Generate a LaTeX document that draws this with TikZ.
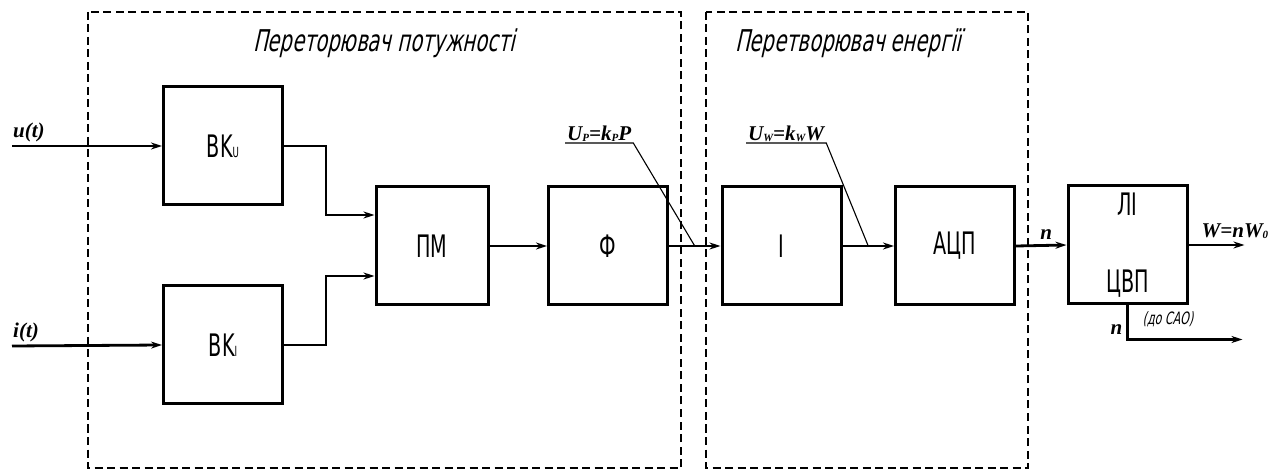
\documentclass[tikz,border=0pt]{standalone}
\usepackage{fontspec}
\newfontfamily\gostfont[FakeStretch=0.65,FakeSlant=0.22]{DejaVu Sans}
\newfontfamily\boxfont[FakeStretch=0.62]{DejaVu Sans}
\newfontfamily\sigfont{Liberation Serif}
\usetikzlibrary{arrows.meta,positioning,calc}
\newcommand{\smallidx}[1]{{\fontsize{14}{14}\selectfont #1}}
\newcommand{\sigidx}[1]{\raisebox{-1pt}{\fontsize{11}{11}\selectfont #1}}

\begin{document}
\begin{tikzpicture}[x=1pt,y=-1pt,
    box/.style={draw,line width=3pt,minimum width=119pt,minimum height=118pt,inner sep=0pt,align=center,font=\boxfont\fontsize{31}{31}\selectfont},
    frame/.style={draw,line width=2.2pt,dash pattern=on 8pt off 4.5pt},
    ->/.style={-{Stealth[length=11pt,width=7pt]},line width=2.8pt},
    sig/.style={font=\sigfont\bfseries\itshape\fontsize{21}{21}\selectfont,inner sep=1pt},
    title/.style={font=\gostfont\fontsize{30}{30}\selectfont,inner sep=0pt},
    note/.style={font=\gostfont\fontsize{17}{17}\selectfont,inner sep=0pt},
    leader/.style={line width=1.1pt},
]
\useasboundingbox (0,0) rectangle (1286,470);

% Frames
\draw[frame] (88,12) rectangle (681,468);
\draw[frame] (706,12) rectangle (1028,468);
\node[title,anchor=base west] (T1) at (253,52) {Переторювач потужності};
\node[title,anchor=base west] (T2) at (735,52) {Перетворювач енергії};

% Blocks
\node[box] (BKu) at (223,146) {BK\smallidx{U}};
\node[box] (BKi) at (223,345) {BK\smallidx{I}};
\node[box,minimum width=112pt] (PM) at (432,246) {ПМ};
\node[box] (F) at (608,246) {Ф};
\node[box] (I) at (781.5,246) {І};
\node[box] (ADC) at (955,246) {АЦП};
\node[box] (CVP) at (1127.5,245) {ЛІ\\[46pt]ЦВП};

% Inputs
\coordinate (uin) at (12,146);
\coordinate (iin) at (12,346);
\node[sig,anchor=south west] (ulab) at ($(uin)+(0,-3)$) {u(t)};
\node[sig,anchor=south west] (ilab) at ($(iin)+(0,-3)$) {i(t)};

% Outputs
\coordinate (Wout) at ($(CVP.east)+(56,0)$);
\coordinate (SAO) at ($(CVP.south)+(115,34)$);
\node[sig,anchor=south west] (Wlab) at ($(CVP.east)+(12,-5)$) {W=nW\sigidx{0}};
\node[sig,anchor=east] (nlab2) at ($(CVP.south)+(-4,24)$) {n};
\node[note,anchor=west] (SAOlab) at ($(CVP.south)+(15,14)$) {(до САО)};

% Leader labels
\node[sig,anchor=south west,inner xsep=2pt] (UP) at (565,143) {U\sigidx{P}=k\sigidx{P}P};
\node[sig,anchor=south west,inner xsep=2pt] (UW) at (746,143) {U\sigidx{W}=k\sigidx{W}W};
\coordinate (UPend) at ($(F.east)!0.5!(I.west)$);
\coordinate (UWend) at ($(I.east)!0.5!(ADC.west)$);

% Arrows
\draw[->] (uin) -- (BKu.west);
\draw[->] (iin) -- (BKi.west);
\draw[->] (BKu.east) -- ++(42,0) |- ($(PM.west)+(0,-31)$);
\draw[->] (BKi.east) -- ++(42,0) |- ($(PM.west)+(0,30)$);
\draw[->] (PM.east) -- (F.west);
\draw[->] (F.east) -- (I.west);
\draw[->] (I.east) -- (ADC.west);
\draw[->] (ADC.east) -- node[sig,above=3pt,pos=0.6] (nlab1) {n} (CVP.west);
\draw[->] (CVP.east) -- (Wout);
\draw[->] (CVP.south) |- (SAO);

\draw[leader] (UP.south west) -- (UP.south east) -- (UPend);
\draw[leader] (UW.south west) -- (UW.south east) -- (UWend);

\end{tikzpicture}
\end{document}
